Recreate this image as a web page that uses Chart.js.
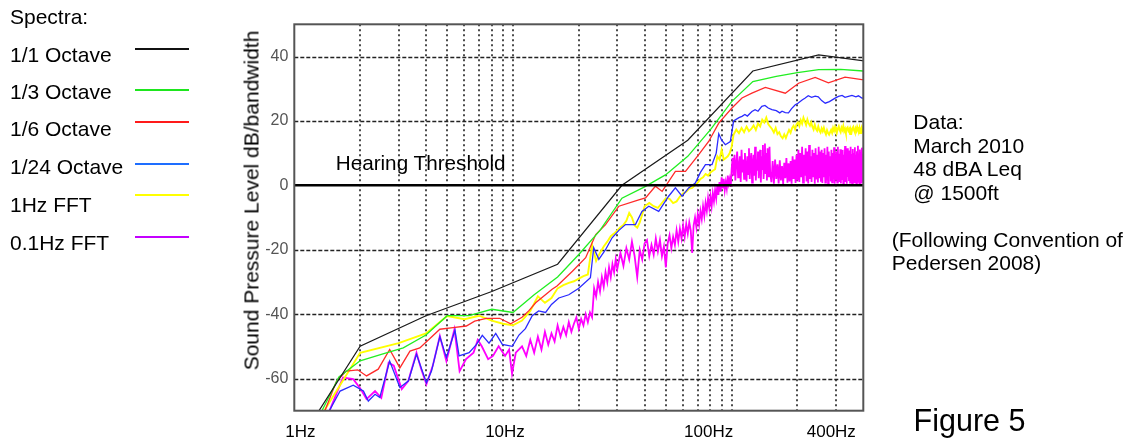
<!DOCTYPE html>
<html>
<head>
<meta charset="utf-8">
<script src="https://cdn.jsdelivr.net/npm/chart.js@4.4.1/dist/chart.umd.min.js"></script>
<style>
  body { margin: 0; background: #fff; }
  #wrap { position: relative; width: 1127px; height: 440px; font-family: "Liberation Sans", Arial, sans-serif; color: #000; }
  #wrap canvas { position: absolute; left: 0; top: 0; }
  .t { position: absolute; font-size: 21px; line-height: 21px; white-space: nowrap; }
  .sw { position: absolute; left: 135px; width: 54px; height: 2px; }
  .note { position: absolute; font-size: 21px; line-height: 23.5px; white-space: nowrap; }
</style>
</head>
<body>
<div id="wrap">
  <canvas id="spectra" width="1127" height="440"></canvas>

  <div class="t" style="left:10px;top:6.2px">Spectra:</div>
  <div class="t" style="left:10px;top:43.9px">1/1 Octave</div>
  <div class="t" style="left:10px;top:80.5px">1/3 Octave</div>
  <div class="t" style="left:10px;top:118.2px">1/6 Octave</div>
  <div class="t" style="left:10px;top:156.2px">1/24 Octave</div>
  <div class="t" style="left:10px;top:194.2px">1Hz FFT</div>
  <div class="t" style="left:10px;top:231.5px">0.1Hz FFT</div>
  <div class="sw" style="top:48px;background:#111"></div>
  <div class="sw" style="top:89px;background:#1ee61e"></div>
  <div class="sw" style="top:121px;background:#ff1a1a"></div>
  <div class="sw" style="top:163px;background:#1e6eff"></div>
  <div class="sw" style="top:193.7px;background:#ffff00"></div>
  <div class="sw" style="top:236px;background:#c400ff"></div>

  <div class="t" style="left:335.7px;top:152.5px;font-size:20.7px;line-height:20.7px">Hearing Threshold</div>

  <div style="position:absolute;left:51px;top:190px;width:400px;height:21px;line-height:21px;font-size:21px;text-align:center;transform:rotate(-90deg);white-space:nowrap">Sound Pressure Level dB/bandwidth</div>

  <div class="note" style="left:913.3px;top:110.3px">Data:<br>March 2010<br>48 dBA Leq<br>@ 1500ft</div>
  <div class="note" style="left:891.8px;top:227.7px">(Following Convention of<br>Pedersen 2008)</div>

  <div style="position:absolute;left:913.6px;top:404.9px;font-size:30.5px;line-height:30.5px;white-space:nowrap">Figure 5</div>
</div>

<script>
// axes
const yTicks = [-60, -40, -20, 0, 20, 40];
const xGridHz = [2, 3, 4, 5, 6, 7, 8, 9, 10, 20, 30, 40, 50, 60, 70, 80, 90, 100, 200, 300];
const xLabels = ['1Hz', '10Hz', '100Hz', '400Hz'];
const xLabelHz = [1, 10, 100, 400];

// 1/1 octave
const blackHz = [1, 2, 4, 8, 16, 31.5, 63, 125, 250, 500];
const blackDb = [-82, -50, -40.5, -33, -24.5, 0, 14, 35.5, 40.5, 37.8];

// 1/3 octave
const greenHz = [1, 1.25, 1.6, 2, 2.5, 3.15, 4, 5, 6.3, 8, 10, 12.5, 16, 20, 25, 31.5, 40, 50, 63, 80, 100, 125, 160, 200, 250, 315, 400, 500];
const greenDb = [-88, -74, -59.5, -54.5, -52.5, -50.5, -46.5, -40.5, -40.5, -38.5, -39.5, -34, -28.5, -21.5, -14, -4, -0.5, 3.3, 9, 17.3, 26, 32.2, 33.8, 35, 35.9, 36, 35.5, 35];

// 1/6 octave
const redHz = [1.2, 1.38, 1.56, 1.73, 1.95, 2.14, 2.42, 2.73, 3.04, 3.38, 3.75, 4.63, 5.32, 6.12, 6.68, 7.55, 8.69, 9.76, 11.0, 11.8, 12.7, 15.1, 15.9, 18.7, 21.5, 23.9, 26.5, 30.5, 37.6, 40.4, 44.8, 48.1, 55.3, 61.5, 70.7, 78.5, 87.3, 100.3, 111.5, 123.8, 142.6, 175.9, 202.3, 241, 277, 330, 394, 450];
const redDb = [-80, -70, -60.8, -57.7, -57.3, -59.2, -57.1, -51, -56.7, -51.5, -50.5, -44.7, -44.2, -43.7, -42.2, -41.3, -41.3, -43, -41, -39, -36.5, -32.3, -31.3, -26.7, -22.5, -15.3, -12.2, -6.5, -4.5, -3.9, -0.3, -1.9, 4.3, 4.3, 9.5, 13.6, 19.3, 24, 27.1, 28.6, 30.4, 28.6, 31.7, 33.5, 31.8, 33.6, 32.8, 33];

// 1/24 octave
const blueHz = [1.3, 1.43, 1.62, 1.86, 2.07, 2.18, 2.34, 2.46, 2.73, 3.04, 3.32, 3.62, 4.02, 4.24, 4.63, 4.96, 5.43, 5.67, 6.3, 6.8, 7.24, 7.77, 8.34, 8.94, 9.93, 10.65, 11.4, 12.25, 13.1, 14.1, 15.0, 16.2, 18, 20, 22.6, 23.4, 24.7, 26.5, 28.4, 30.5, 32.7, 36.3, 38.9, 41.8, 46.4, 51.5, 55.3, 59.3, 63.6, 68.2, 72, 75.9, 81.3, 85, 87.3, 90, 93.6, 98.6, 102.1, 108, 111.5, 115, 118, 123.8, 128, 132, 137.4, 142, 147, 152.8, 160, 166, 170, 175.9, 182, 188, 195.4, 201, 210, 217, 224, 232, 241, 249, 258, 267.9, 280, 296, 308, 320, 330, 342, 355, 370, 380, 394, 450];
const blueDb = [-76, -70.6, -63.9, -62.1, -63.9, -67, -64.9, -65.9, -54.6, -62.8, -60.8, -52.5, -61.3, -57.7, -47, -53.5, -45, -53, -52, -49.5, -46.6, -49, -46, -49.4, -50, -46.5, -44.5, -40.5, -39, -39.5, -37, -35, -34, -32, -28.7, -19.4, -23, -20, -16.3, -14, -12.2, -12.2, -8.1, -6.5, -8.1, -3.4, -0.8, -3.4, -0.8, 0.7, 4, 6.4, 6.4, 10, 16, 14, 12.6, 13.6, 20, 21, 21.4, 22, 21.5, 22.9, 23.5, 23, 24.5, 24.8, 24, 23.5, 23.2, 22.5, 23, 22.6, 22.5, 23.8, 25, 25.5, 26.5, 27.1, 27.8, 27.3, 27.7, 27.5, 26.3, 25.5, 26, 27, 27.6, 27.9, 27.3, 27.6, 27.9, 27.5, 27.8, 27.1, 27];

// 1Hz FFT: low bins listed, upper bins as (start, step, values)
const yellowLowHz = [1, 2, 3, 4, 5, 6, 7, 8, 9, 10, 11, 12, 13, 14, 15, 16, 17, 18, 19, 20, 21, 22, 23, 24, 25, 26, 27, 28, 29, 30, 31, 32, 33, 34, 35, 36, 37, 38, 39, 40];
const yellowLowDb = [-85, -52, -49, -46, -40.6, -41.6, -40.5, -42, -43, -43.5, -42, -39, -34.5, -36.5, -35, -32, -31, -30.3, -29.8, -29, -28.2, -27.7, -18.5, -23.5, -21, -19, -17.5, -15.8, -15, -14, -13, -12.3, -11, -8.6, -10, -12.5, -13.2, -11.5, -9, -6.5];
const yellowMidStart = 42, yellowMidStep = 2;
const yellowMidDb = [-5.5, -6.5, -7, -5.5, -4, -4.2, -5.5, -5, -3.5, -2.5, -2, -1, -0.8, 0, 0.8, 2, 2.5, 3.5, 3, 4, 4.5, 5, 9, 8, 11, 8, 8.5, 9, 10, 12];
const yellowHighStart = 102, yellowHighStep = 3;
const yellowHighDb = [
  15.7, 17.3, 16.2, 17.8, 16.5, 18.2, 16.8, 17.5, 18.6, 17.2,
  19.2, 18.3, 20.4, 19.5, 21.0, 19.0, 18.2,
  17.5, 16.4, 17.8, 15.9, 16.5, 15.2, 14.6, 15.8, 14.7,
  16.0, 17.2, 16.3, 17.8, 18.5, 17.4, 18.9,
  19.5, 18.4, 20.2, 19.1, 21.0, 19.8, 18.7, 20.4, 19.2, 18.5, 19.6,
  18.2, 17.3, 18.8, 17.5, 16.9, 18.3, 17.0, 16.4, 17.7, 16.8, 17.9, 16.6, 15.8, 17.1, 16.2, 15.7, 16.5,
  17.2, 16.3, 17.8, 16.9, 18.1, 17.0, 16.4, 17.6, 18.3, 17.1, 16.5, 17.9, 17.2, 18.4, 16.8, 17.5, 16.2, 17.7, 18.0, 16.9,
  17.4, 15.9, 17.3, 16.6, 17.8, 18.2, 17.0, 16.4, 17.6, 16.9, 18.1, 17.3, 16.5, 17.7, 16.2, 17.4, 18.0, 16.8, 17.3
];

// 0.1Hz FFT
const magLowHz = [1.2, 1.45, 1.67, 1.86, 2.0, 2.14, 2.34, 2.5, 2.7, 2.85, 3.1, 3.32, 3.62, 3.8, 4.02, 4.3, 4.63, 4.96, 5.4, 5.7, 6.1, 6.6, 6.9, 7.2, 7.7, 8.1, 8.6, 9.2, 9.6, 9.9, 10.3, 11, 11.5, 12, 12.5];
const magLowDb = [-82, -70, -59.7, -60.2, -63, -66.4, -63.9, -66, -55.1, -56, -63.3, -60.8, -52, -57, -61.8, -56, -46.8, -54.6, -44.7, -57.7, -54, -52, -48, -50, -54, -53, -50, -53, -51, -58.5, -52, -50, -53, -48, -52];
const magMidStart = 13, magMidStep = 0.5;
const magMidDb = [-47, -51, -45.5, -49.5, -46, -48.5, -43.5, -47, -44, -46.5, -42.5, -45.5, -43, -41, -44.5, -41.5, -43.5, -40, -42.5, -39.5, -41, -32, -34.5, -30, -33, -28.5, -31.5, -27, -30, -25.5, -28.5, -24.5, -27, -23, -26];
const magUpStart = 31, magUpStep = 1;
const magUpDb = [
  -21, -25, -19.5, -23, -17.5, -22, -28.5, -20, -23, -18,
  -17, -22, -18.5, -21.5, -16.5, -20.5, -17, -22, -19, -25.5,
  -18, -15.5, -19.5, -16, -18.5, -14, -17.5, -13.5, -16.5, -12.5,
  -16, -12, -15, -11.5, -14, -21, -12.5, -10, -13, -9,
  -12, -8, -10.5, -6.5, -9.5, -5.5, -8, -4, -7, -3.5,
  -6.5, -2.5, -5, -1.5, -4, 0, -3, 1, -2, 2.5,
  -1, 2, -1.5, 1, -1, 3, 0.5, 2, -0.5, 5
];
const magBandStart = 101, magBandStep = 1;
const magBandDb = [
  8.5, 3, 9.5, 1.5, 7, 10.5, 2.5, 6, 9, 1,
  11, 4, 8, 2, 10, 5.5, 1.2, 9, 3.5, 11.5,
  2, 7.5, 10, 0.8, 6, 9.5, 3, 12, 1.5, 8,
  4.5, 10.5, 2.2, 7, 11, 0.9, 9, 5, 12.5, 2,
  8.5, 13, 3.5, 10, 1.5, 11.5, 6, 2.5, 12, 4
];
const magHighStart = 152, magHighStep = 2;
const magHighDb = [
  1, 7.5, 0.5, 8, 2, 6.5, 0.6, 7.8, 1.5, 6, 0.4, 7, 2.2, 8.5, 0.8, 6.8, 1.2, 7.5, 0.5, 9, 2, 8, 0.7, 9.5, 1.5,
  11, 1, 10, 2.5, 12, 0.8, 9.5, 3, 11.5, 1.2, 10.5, 0.6, 12.5, 2, 9, 1, 11, 2.8, 10, 0.5, 11.5, 1.8, 9.5, 0.9, 12, 2.2, 10.5, 1.1, 11, 0.7,
  10, 2.5, 11.5, 0.8, 9.5, 1.5, 12, 0.6, 10.5, 2.8, 9, 1.2, 11, 0.9, 10, 2, 11.8, 0.5, 9.5, 1.7, 10.5, 0.8, 12, 2.4, 9.8, 1, 11.2, 0.6, 10, 1.9,
  11, 0.7, 9.5, 2.2, 12.2, 1, 10.3, 0.5, 11.5, 2.6, 9.2, 1.3, 10.8, 0.8, 12, 1.8, 9.7, 0.6, 11.3, 2.1, 10, 0.9, 11.8, 1.5, 9.5, 0.7, 10.6, 2.4, 12.3, 1.1, 9.9, 0.5, 11.1, 1.9, 10.4, 0.8, 11.7, 1.4, 9.6, 8
];

function pairs(hz, db) {
  return hz.map((f, i) => ({ x: f, y: db[i] }));
}
function bins(start, step, db) {
  return db.map((v, i) => ({ x: +(start + i * step).toFixed(2), y: v }));
}

function line(label, color, width, data) {
  return { label: label, data: data, borderColor: color, borderWidth: width, showLine: true, pointRadius: 0, tension: 0, fill: false };
}

// grid, zero line, frame and frequency labels
const frame = {
  id: 'frame',
  beforeDatasetsDraw(chart) {
    const { ctx, chartArea: a, scales: { x, y } } = chart;
    ctx.save();
    ctx.lineWidth = 1.5;
    ctx.strokeStyle = '#111';
    ctx.setLineDash([2, 3]);
    xGridHz.forEach(f => {
      const px = Math.round(x.getPixelForValue(f));
      ctx.beginPath(); ctx.moveTo(px, a.top); ctx.lineTo(px, a.bottom); ctx.stroke();
    });
    ctx.strokeStyle = '#222';
    ctx.lineWidth = 1.3;
    ctx.setLineDash([4, 2]);
    yTicks.filter(v => v !== 0).forEach(v => {
      const py = Math.round(y.getPixelForValue(v)) + 0.5;
      ctx.beginPath(); ctx.moveTo(a.left, py); ctx.lineTo(a.right, py); ctx.stroke();
    });
    ctx.restore();
  },
  afterDatasetsDraw(chart) {
    const { ctx, chartArea: a, scales: { x, y } } = chart;
    ctx.save();
    ctx.setLineDash([]);
    // hearing threshold
    const y0 = y.getPixelForValue(0);
    ctx.strokeStyle = '#000';
    ctx.lineWidth = 2.6;
    ctx.beginPath(); ctx.moveTo(a.left, y0); ctx.lineTo(a.right, y0); ctx.stroke();
    // frame
    ctx.strokeStyle = '#555';
    ctx.lineWidth = 2;
    ctx.strokeRect(a.left, a.top, a.right - a.left, a.bottom - a.top);
    // frequency labels (placed as in the original figure)
    const nudge = [6, -8, -23, -32];
    ctx.fillStyle = '#000';
    ctx.font = '17px "Liberation Sans", Arial, sans-serif';
    ctx.textAlign = 'center';
    ctx.textBaseline = 'alphabetic';
    xLabels.forEach((t, i) => {
      ctx.fillText(t, x.getPixelForValue(xLabelHz[i]) + nudge[i], a.bottom + 26.6);
    });
    ctx.restore();
  }
};

new Chart(document.getElementById('spectra'), {
  type: 'scatter',
  data: {
    datasets: [
      line('1/1 Octave', '#1a1a1a', 1.2, pairs(blackHz, blackDb)),
      line('1/3 Octave', '#22ee22', 1.3, pairs(greenHz, greenDb)),
      line('1/6 Octave', '#ff2a2a', 1.3, pairs(redHz, redDb)),
      line('1/24 Octave', '#2b2bff', 1.3, pairs(blueHz, blueDb)),
      line('1Hz FFT', '#ffff00', 1.9, pairs(yellowLowHz, yellowLowDb)
        .concat(bins(yellowMidStart, yellowMidStep, yellowMidDb))
        .concat(bins(yellowHighStart, yellowHighStep, yellowHighDb))),
      line('0.1Hz FFT', '#ff00ff', 1.8, pairs(magLowHz, magLowDb)
        .concat(bins(magMidStart, magMidStep, magMidDb))
        .concat(bins(magUpStart, magUpStep, magUpDb))
        .concat(bins(magBandStart, magBandStep, magBandDb))
        .concat(bins(magHighStart, magHighStep, magHighDb)))
    ]
  },
  options: {
    responsive: false,
    animation: false,
    events: [],
    layout: { padding: { left: 230, right: 263.7, top: 24.3, bottom: 29.3 } },
    plugins: { legend: { display: false }, tooltip: { enabled: false } },
    scales: {
      x: {
        type: 'logarithmic',
        min: 1,
        max: 400,
        ticks: { display: false },
        grid: { display: false },
        border: { display: false },
        afterFit: s => { s.height = 0; }
      },
      y: {
        min: -70,
        max: 50,
        afterBuildTicks: s => { s.ticks = yTicks.map(v => ({ value: v })); },
        ticks: {
          color: '#555',
          padding: 6,
          autoSkip: false,
          font: { family: '"Liberation Sans", Arial, sans-serif', size: 16 }
        },
        grid: { display: false, drawTicks: false },
        border: { display: false },
        afterFit: s => { s.width = 64.3; }
      }
    }
  },
  plugins: [frame]
});
</script>
</body>
</html>
